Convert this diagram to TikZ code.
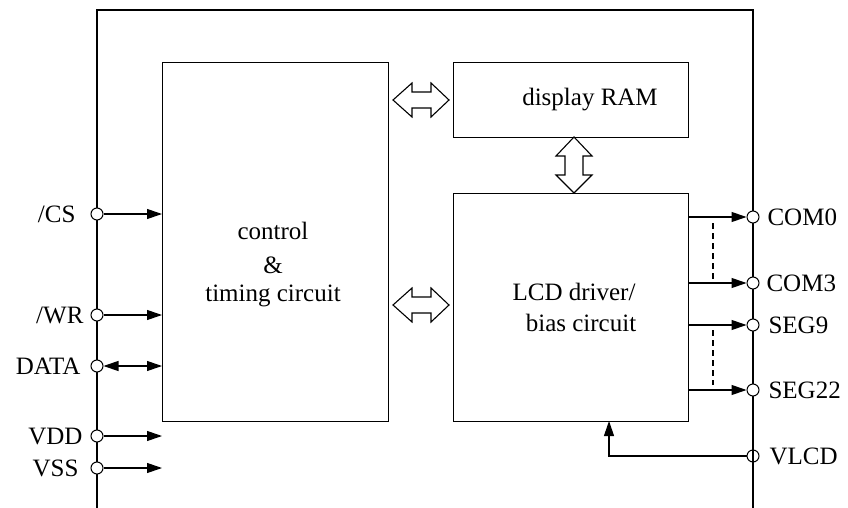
\documentclass[tikz,border=0pt]{standalone}
\usepackage{fontspec}
\setmainfont{Liberation Serif}
\usetikzlibrary{arrows.meta}
\begin{document}
\begin{tikzpicture}[x=1pt,y=-1pt,line width=1.1pt,
  blockbox/.style={draw,line width=1.1pt,inner sep=0pt,anchor=north west},
  pinc/.style={circle,draw,fill=white,minimum size=12pt,inner sep=0pt,line width=1pt},
  lbl/.style={font=\fontsize{25}{28}\selectfont,inner sep=0pt},
  sig/.style={-{Triangle[length=15pt,width=10pt]}},
  bisig/.style={{Triangle[length=15pt,width=10pt]}-{Triangle[length=15pt,width=10pt]}},
  bigarrow/.style={draw,fill=white,line width=1.1pt,line join=miter}]
\useasboundingbox (0,0) rectangle (848,508);
% outer frame
\draw (97,508) -- (97,10) -- (753,10) -- (753,508);
% blocks
\node[blockbox,minimum width=226pt,minimum height=359pt] (ctrl) at (162,62) {};
\node[blockbox,minimum width=235pt,minimum height=75pt] (ram) at (453,62) {};
\node[blockbox,minimum width=235pt,minimum height=228pt] (lcd) at (453,193) {};
% texts in blocks
\node[lbl] (t1) at (273,231) {control};
\node[lbl] (t2) at (273,265) {\&};
\node[lbl] (t3) at (273,296) {timing circuit};
\node[lbl] (t4) at (590,100) {display RAM};
\node[lbl] (t5) at (574,292) {LCD driver/};
\node[lbl] (t6) at (581,323) {bias circuit};
% block arrows
\draw[bigarrow] (393,100) -- (412,83) -- (412,92) -- (431,92) -- (431,83) -- (449,100)
  -- (431,117) -- (431,108) -- (412,108) -- (412,117) -- cycle;
\draw[bigarrow] (393,305) -- (412,288) -- (412,297) -- (431,297) -- (431,288) -- (449,305)
  -- (431,322) -- (431,313) -- (412,313) -- (412,322) -- cycle;
\draw[bigarrow] (574,137) -- (592,156) -- (583,156) -- (583,175) -- (592,175) -- (574,193)
  -- (556,175) -- (565,175) -- (565,156) -- (556,156) -- cycle;
% left pins
\node[pinc] (cs) at (97,214) {};
\node[pinc] (wr) at (97,315) {};
\node[pinc] (data) at (97,366) {};
\node[pinc] (vdd) at (97,436) {};
\node[pinc] (vss) at (97,468) {};
\node[lbl,anchor=east] (lcs) at (76,214) {/CS};
\node[lbl,anchor=east] (lwr) at (84,315) {/WR};
\node[lbl,anchor=east] (ldata) at (81,366) {DATA};
\node[lbl,anchor=east] (lvdd) at (83,436) {VDD};
\node[lbl,anchor=east] (lvss) at (79,468) {VSS};
\draw[sig] (cs) -- (cs -| ctrl.west);
\draw[sig] (wr) -- (wr -| ctrl.west);
\draw[bisig] (data) -- (data -| ctrl.west);
\draw[sig] (vdd) -- (vdd -| ctrl.west);
\draw[sig] (vss) -- (vss -| ctrl.west);
% right pins
\node[pinc] (com0) at (753,217) {};
\node[pinc] (com3) at (753,283) {};
\node[pinc] (seg9) at (753,325) {};
\node[pinc] (seg22) at (753,390) {};
\node[pinc,fill=none] (vlcd) at (753,456) {};
\node[lbl,anchor=west] (lcom0) at (767,217) {COM0};
\node[lbl,anchor=west] (lcom3) at (766,283) {COM3};
\node[lbl,anchor=west] (lseg9) at (768,325) {SEG9};
\node[lbl,anchor=west] (lseg22) at (768,390) {SEG22};
\node[lbl,anchor=west] (lvlcd) at (769,456) {VLCD};
\draw[sig] (com0 -| lcd.east) -- (com0);
\draw[sig] (com3 -| lcd.east) -- (com3);
\draw[sig] (seg9 -| lcd.east) -- (seg9);
\draw[sig] (seg22 -| lcd.east) -- (seg22);
\draw[dash pattern=on 6pt off 4pt] (713,223) -- (713,280);
\draw[dash pattern=on 6pt off 4pt] (713,330) -- (713,385);
\coordinate (vin) at (609,421);
\draw[sig] (vlcd) -| (vin);
\end{tikzpicture}
\end{document}
